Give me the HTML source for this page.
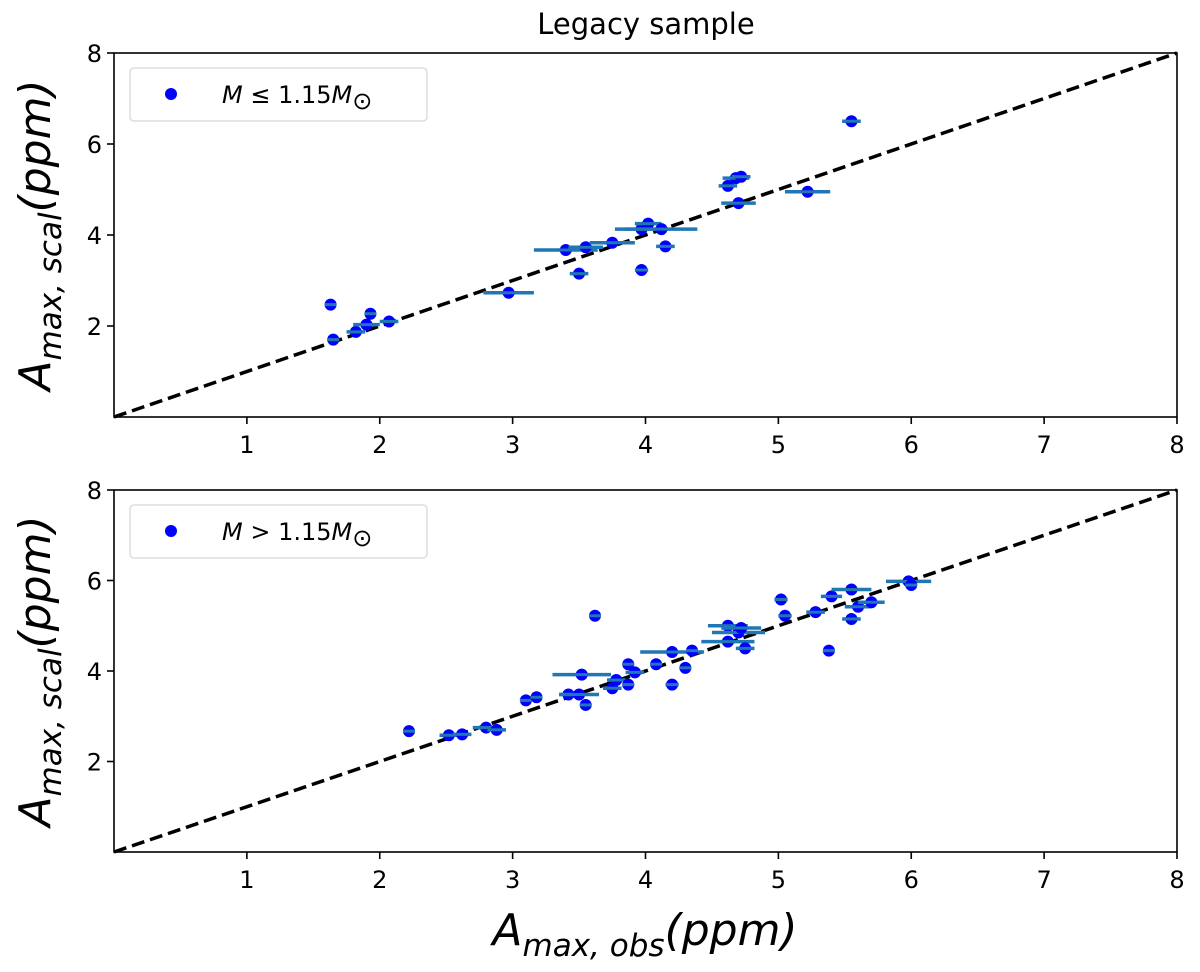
<!DOCTYPE html>
<html><head><meta charset="utf-8"><style>
body{margin:0;background:#fff}
svg text{font-family:"DejaVu Sans","Liberation Sans",sans-serif}
</style></head><body>
<svg id="c" width="1200" height="967" xmlns="http://www.w3.org/2000/svg">
<text x="646" y="34" font-size="29" text-anchor="middle">Legacy sample</text>
<text x="645" y="945" font-size="44" text-anchor="middle" font-style="italic">A<tspan font-size="31" dy="11">max, obs</tspan><tspan dy="-11">(ppm)</tspan></text>
</svg>
<script>
const xTicks=[1,2,3,4,5,6,7,8];
const yTicks=[2,4,6,8];
const topX=[1.63,1.65,1.82,1.90,1.93,2.07,2.97,3.40,3.50,3.55,3.75,3.97,3.97,4.02,4.12,4.15,4.62,4.68,4.72,4.70,5.22,5.55];
const topY=[2.47,1.70,1.87,2.03,2.27,2.10,2.73,3.67,3.15,3.73,3.83,3.23,4.13,4.25,4.13,3.75,5.08,5.25,5.28,4.70,4.95,6.50];
const topErr=[0.03,0.03,0.07,0.1,0.03,0.07,0.19,0.24,0.07,0.13,0.17,0.05,0.2,0.1,0.27,0.07,0.07,0.1,0.07,0.13,0.17,0.07];
const botX=[2.22,2.52,2.62,2.80,2.88,3.10,3.18,3.42,3.52,3.50,3.55,3.62,3.75,3.78,3.87,3.87,3.92,4.08,4.20,4.20,4.30,4.35,4.62,4.62,4.70,4.72,4.75,5.02,5.05,5.28,5.38,5.40,5.55,5.55,5.60,5.70,5.98,6.00];
const botY=[2.67,2.58,2.60,2.75,2.70,3.35,3.42,3.48,3.92,3.48,3.25,5.22,3.62,3.80,3.70,4.15,3.97,4.15,4.42,3.70,4.07,4.45,4.65,5.00,4.85,4.95,4.50,5.58,5.22,5.30,4.45,5.65,5.80,5.15,5.42,5.52,5.98,5.90];
const botErr=[0.03,0.07,0.07,0.1,0.07,0.03,0.03,0.07,0.22,0.15,0.03,0.03,0.07,0.07,0.03,0.03,0.07,0.03,0.24,0.05,0.03,0.03,0.2,0.15,0.2,0.15,0.07,0.05,0.05,0.07,0.03,0.08,0.15,0.07,0.1,0.1,0.17,0.03];
const NS='http://www.w3.org/2000/svg';
const svg=document.getElementById('c');
function mk(t,a,p){const e=document.createElementNS(NS,t);for(const k in a)e.setAttribute(k,a[k]);(p||svg).appendChild(e);return e;}
const L=114,R=1177;
function panel(top,bot,xs,ys,es,label,name){
  const g=mk('g',{});
  
  
  const sx=v=>L+(R-L)*v/8, sy=v=>bot-(bot-top)*v/8;
  const d=mk('line',{x1:sx(0),y1:sy(0),x2:sx(8),y2:sy(8),stroke:'#000','stroke-width':3.5,'stroke-dasharray':'13,6'},g);
  
  
  xs.forEach((x,i)=>{
    const b=mk('line',{x1:sx(x-es[i]),x2:sx(x+es[i]),y1:sy(ys[i]),y2:sy(ys[i]),stroke:'#1f77b4','stroke-width':3.5},g);
    
    
    const c=mk('circle',{cx:sx(x),cy:sy(ys[i]),r:6,fill:'#0000ff'},g);
    
    
    mk('line',{x1:sx(x)-6,x2:sx(x)+6,y1:sy(ys[i]),y2:sy(ys[i]),stroke:'#1f77b4','stroke-width':3},g);
  });
  const f=mk('rect',{x:L,y:top,width:R-L,height:bot-top,fill:'none',stroke:'#000','stroke-width':1.6},g);
  
  
  xTicks.forEach(t=>{
    mk('line',{x1:sx(t),x2:sx(t),y1:bot,y2:bot+7,stroke:'#000','stroke-width':1.6},g);
    const tx=mk('text',{x:sx(t),y:bot+36,'font-size':24,'text-anchor':'middle'},g);tx.textContent=t;
    
    
  });
  yTicks.forEach(t=>{
    mk('line',{x1:L-7,x2:L,y1:sy(t),y2:sy(t),stroke:'#000','stroke-width':1.6},g);
    const tx=mk('text',{x:L-12,y:sy(t)+9,'font-size':24,'text-anchor':'end'},g);tx.textContent=t;
    
    
  });
  const yl=mk('text',{x:0,y:0,'font-size':44,'font-style':'italic','text-anchor':'middle',transform:`translate(50,${(top+bot)/2}) rotate(-90)`},g);
  yl.innerHTML='A<tspan font-size="31" dy="11">max, scal</tspan><tspan dy="-11">(ppm)</tspan>';
  
  
  const lg=mk('g',{},g);
  
  
  mk('rect',{x:130,y:top+15,width:297,height:53,rx:4,fill:'#fff',stroke:'#ddd','stroke-width':1.5},lg);
  mk('circle',{cx:171,cy:top+41,r:6,fill:'#0000ff'},lg);
  const lt=mk('text',{x:222,y:top+50,'font-size':24},lg);
  lt.innerHTML=label;
}
panel(53,417,topX,topY,topErr,'<tspan font-style="italic">M</tspan> ≤ 1.15<tspan font-style="italic">M</tspan><tspan dy="6">⊙</tspan>','panel-low-mass');
panel(490,852,botX,botY,botErr,'<tspan font-style="italic">M</tspan> &gt; 1.15<tspan font-style="italic">M</tspan><tspan dy="6">⊙</tspan>','panel-high-mass');
</script>
</body></html>
